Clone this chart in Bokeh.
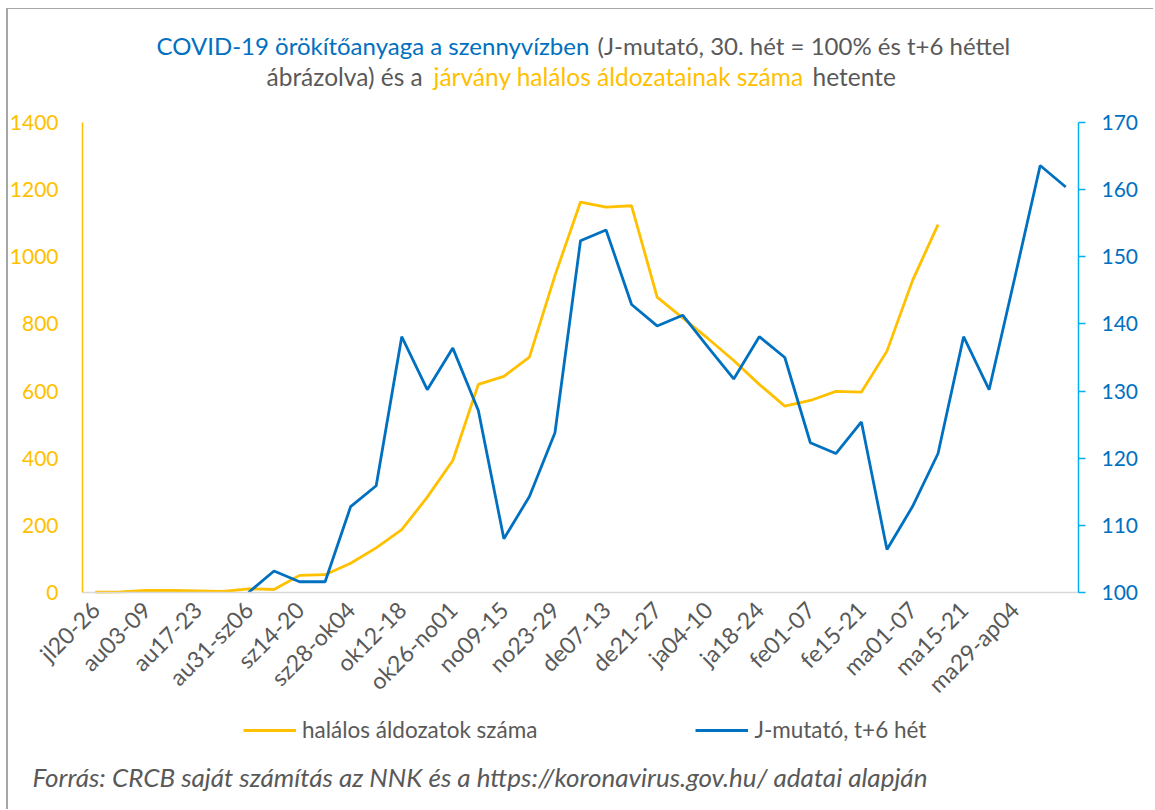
from bokeh.plotting import figure
from bokeh.models import Range1d, LinearAxis, FixedTicker, Label, Legend, LegendItem
from bokeh.embed import file_html
from bokeh.resources import INLINE

weeks = ["jl20-26", "jl27-au02", "au03-09", "au10-16", "au17-23", "au24-30",
         "au31-sz06", "sz07-13", "sz14-20", "sz21-27", "sz28-ok04", "ok05-11",
         "ok12-18", "ok19-25", "ok26-no01", "no02-08", "no09-15", "no16-22",
         "no23-29", "no30-de06", "de07-13", "de14-20", "de21-27", "de28-ja03",
         "ja04-10", "ja11-17", "ja18-24", "ja25-31", "fe01-07", "fe08-14",
         "fe15-21", "fe22-28", "ma01-07", "ma08-14", "ma15-21", "ma22-28",
         "ma29-ap04", "ap05-11", "ap12-18"]

deaths = [1, 2, 6, 6, 5, 3, 11, 9, 51, 53, 87, 133, 187, 284, 393, 620, 644,
          701, 944, 1163, 1148, 1152, 880, 818, 756, 691, 620, 555, 572, 599,
          597, 719, 929, 1096]

j_start = 6
j_index = [100, 103.2, 101.6, 101.6, 112.8, 115.9, 138.1, 130.2, 136.4, 127.1,
           108.0, 114.3, 123.8, 152.4, 154.0, 142.9, 139.7, 141.3, 136.5, 131.8,
           138.1, 135.0, 122.3, 120.7, 125.4, 106.4, 112.8, 120.7, 138.1, 130.2,
           146.8, 163.6, 160.4]

left_ticks = [0, 200, 400, 600, 800, 1000, 1200, 1400]
right_ticks = [100, 110, 120, 130, 140, 150, 160, 170]
label_ticks = list(range(0, 37, 2))

YELLOW = "#FFC000"
BLUE = "#0070C0"
LBLUE = "#00B0F0"
GRAY = "#595959"
FONT = "Lato"

# ---- geometry in figure pixels (figure sits at page offset 8, 9) ----
W, H = 1147, 801
PL, PR = 74, 1070      # plot area left / right
PT, PB = 113, 583      # plot area top / bottom
n = len(weeks)
x0, x1 = -0.5, n - 0.5
xpp = (x1 - x0) / (PR - PL)
lpp = (left_ticks[-1] - left_ticks[0]) / (PB - PT)
rpp = (right_ticks[-1] - right_ticks[0]) / (PB - PT)

# the frame covers the whole canvas; axes are pinned at the plot-area edges
x_range = Range1d(x0 - PL * xpp, x1 + (W - PR) * xpp)
y_range = Range1d(left_ticks[0] - (H - PB) * lpp, left_ticks[-1] + PT * lpp)
r_range = Range1d(right_ticks[0] - (H - PB) * rpp, right_ticks[-1] + PT * rpp)

def px_to_x(px):
    return x0 + (px - PL) * xpp

def py_to_y(py):
    return left_ticks[0] + (PB - py) * lpp

x_all = list(range(n))
x_deaths = x_all[:len(deaths)]
x_j = x_all[j_start:j_start + len(j_index)]

p = figure(width=W, height=H, output_backend="svg", toolbar_location=None,
           x_range=x_range, y_range=y_range)
p.extra_y_ranges = {"right": r_range}
p.min_border = 0
p.outline_line_color = None
p.xgrid.visible = False
p.ygrid.visible = False
p.styles = {"margin-left": "6px", "margin-top": "8px",
            "border-left": "2px solid #A6A6A6", "border-top": "1px solid #A6A6A6"}

xa = p.xaxis[0]
xa.fixed_location = left_ticks[0]
xa.bounds = (x0, x1)
xa.ticker = FixedTicker(ticks=label_ticks)
xa.major_label_overrides = {i: weeks[i] for i in label_ticks}
xa.major_label_orientation = 0.785398
xa.axis_line_color = "#D9D9D9"
xa.axis_line_width = 1.5
xa.major_tick_line_color = None
xa.minor_tick_line_color = None
xa.major_tick_out = 0
xa.major_tick_in = 0
xa.major_label_standoff = 13
xa.major_label_text_font = FONT
xa.major_label_text_font_size = "23px"
xa.major_label_text_color = GRAY

ya = p.yaxis[0]
ya.fixed_location = x0
ya.bounds = (left_ticks[0], left_ticks[-1])
ya.ticker = FixedTicker(ticks=left_ticks)
ya.axis_line_color = YELLOW
ya.axis_line_width = 1.5
ya.major_tick_line_color = None
ya.minor_tick_line_color = None
ya.major_tick_out = 0
ya.major_tick_in = 0
ya.major_label_standoff = 24
ya.major_label_text_font = FONT
ya.major_label_text_font_size = "21px"
ya.major_label_text_color = YELLOW

ra = LinearAxis(y_range_name="right", ticker=FixedTicker(ticks=right_ticks),
                bounds=(right_ticks[0], right_ticks[-1]), fixed_location=x1)
ra.axis_line_color = LBLUE
ra.axis_line_width = 1.5
ra.major_tick_line_color = LBLUE
ra.major_tick_line_width = 1.5
ra.major_tick_out = 7
ra.major_tick_in = 0
ra.minor_tick_line_color = None
ra.major_label_standoff = 16
ra.major_label_text_font = FONT
ra.major_label_text_font_size = "21px"
ra.major_label_text_color = BLUE
p.add_layout(ra, "right")

r1 = p.line(x_deaths, deaths, line_color=YELLOW, line_width=2.8)
r2 = p.line(x_j, j_index, line_color=BLUE, line_width=2.8, y_range_name="right")

legend = Legend(items=[LegendItem(label="halálos áldozatok száma", renderers=[r1]),
                       LegendItem(label="J-mutató, t+6 hét", renderers=[r2])],
                orientation="horizontal", location=(235, 67), spacing=158,
                glyph_width=53, glyph_height=20, label_height=20, label_standoff=6,
                padding=0, margin=0, border_line_color=None,
                background_fill_alpha=0, label_text_font=FONT,
                label_text_font_size="22.5px", label_text_color=GRAY)
p.add_layout(legend)

# ---- heading (two lines, coloured segments) and source line ----
text_parts = [
    ("COVID-19 örökítőanyaga a szennyvízben", BLUE, 148, 35.7, "normal", "24px"),
    ("(J-mutató, 30. hét = 100% és t+6 héttel", GRAY, 589, 35.7, "normal", "24px"),
    ("ábrázolva) és a", GRAY, 258, 67.3, "normal", "24.5px"),
    ("járvány halálos áldozatainak száma", YELLOW, 425, 67.3, "normal", "24.5px"),
    ("hetente", GRAY, 804, 67.3, "normal", "24.5px"),
    ("Forrás: CRCB saját számítás az NNK és a https://koronavirus.gov.hu/ adatai alapján",
     GRAY, 24, 767, "italic", "26px"),
]
for txt, col, tx, ty, style, size in text_parts:
    p.add_layout(Label(x=px_to_x(tx), y=py_to_y(ty), text=txt, text_color=col,
                       text_font=FONT, text_font_size=size, text_font_style=style,
                       text_baseline="alphabetic", text_align="left"))

open("out.html", "w").write(file_html(p, INLINE))
